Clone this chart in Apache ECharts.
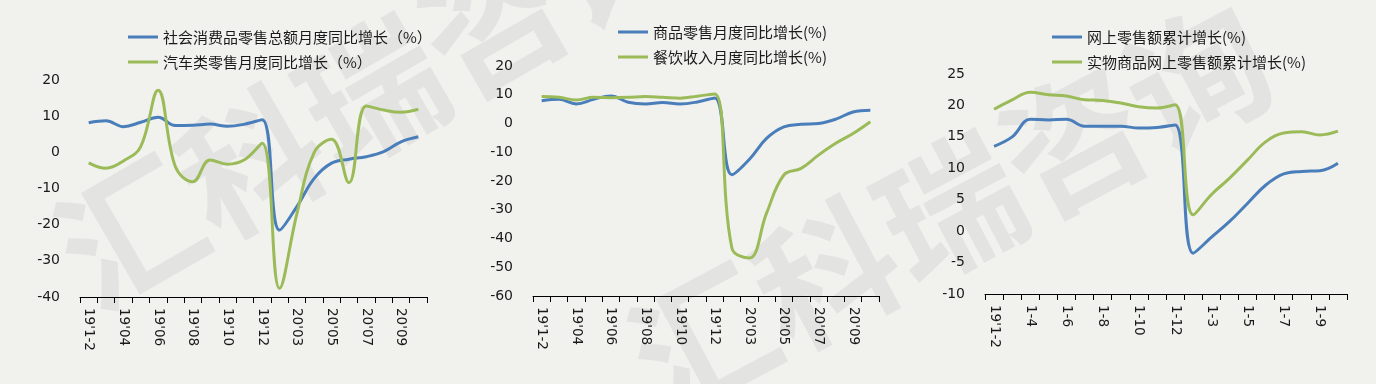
<!DOCTYPE html>
<html>
<head>
<meta charset="utf-8">
<style>
html,body{margin:0;padding:0;background:#f1f2ee;}
#c{width:1376px;height:384px;}
</style>
<script src="https://cdn.jsdelivr.net/npm/echarts@6/dist/echarts.min.js"></script>
</head>
<body>
<div id="c"></div>
<script>
// ---- data ----
var catsMonthly = ["19'1-2","19'03","19'04","19'05","19'06","19'07","19'08","19'09","19'10","19'11","19'12",
                   "20'1-2","20'03","20'04","20'05","20'06","20'07","20'08","20'09","20'10"];
var catsCumul = ["19'1-2","1-3","1-4","1-5","1-6","1-7","1-8","1-9","1-10","1-11","1-12",
                 "1-2","1-3","1-4","1-5","1-6","1-7","1-8","1-9","1-10"];

var nameTotal = "社会消费品零售总额月度同比增长（%）";
var nameAuto = "汽车类零售月度同比增长（%）";
var totalRetail = [8.2, 8.7, 7.1, 8.3, 9.7, 7.4, 7.5, 7.8, 7.2, 7.8, 9.0,
                   -21.5, -15.0, -7.2, -3.0, -1.9, -1.2, 0.2, 2.9, 4.3];
var autoRetail = [-2.9, -4.4, -2.4, 1.6, 17.2, -4.0, -8.1, -2.1, -3.3, -2.0, 2.5,
                  -37.6, -17.0, 0.0, 3.6, -8.4, 12.8, 11.7, 11.1, 11.9];

var nameGoods = "商品零售月度同比增长(%)";
var nameCatering = "餐饮收入月度同比增长(%)";
var goodsRetail = [7.9, 8.4, 6.8, 8.4, 9.6, 7.4, 6.8, 7.3, 6.8, 7.5, 8.9,
                   -17.8, -12.5, -5.2, -1.2, -0.3, 0.0, 1.5, 4.0, 4.6];
var cateringIncome = [9.4, 9.1, 8.2, 9.1, 9.0, 9.1, 9.4, 9.1, 8.8, 9.5, 10.3,
                      -43.4, -46.8, -31.2, -17.9, -15.6, -11.0, -6.9, -3.5, 0.6];

var nameOnline = "网上零售额累计增长(%)";
var nameOnlineGoods = "实物商品网上零售额累计增长(%)";
var onlineRetail = [13.5, 15.0, 17.8, 17.7, 17.8, 16.7, 16.7, 16.7, 16.4, 16.5, 16.9,
                    -3.5, -1.0, 1.5, 4.4, 7.3, 9.1, 9.5, 9.6, 10.8];
var onlineGoods = [19.4, 20.9, 22.1, 21.7, 21.5, 20.9, 20.8, 20.4, 19.8, 19.6, 20.1,
                   2.6, 5.8, 8.4, 11.3, 14.2, 15.6, 15.8, 15.3, 15.9];

// ---- styles ----
var BLUE = '#4a7ebb', GREEN = '#9bbb59';
var numFont = 'DejaVu Sans';
var cjkFont = '"Noto Sans CJK SC", "Noto Sans", sans-serif';

var grids = [
  {left: 80, top: 80, width: 347, height: 217},
  {left: 533, top: 66, width: 346, height: 230},
  {left: 985, top: 74, width: 362, height: 220}
];
var yRanges = [
  {min: -40, max: 20, interval: 10},
  {min: -60, max: 20, interval: 10},
  {min: -10, max: 25, interval: 5}
];
var catsList = [catsMonthly, catsMonthly, catsCumul];

function xAx(i){
  return {
    type: 'category', gridIndex: i, data: catsList[i], boundaryGap: true,
    axisLine: {show: true, onZero: false, lineStyle: {color: '#000', width: 1}},
    axisTick: {show: true, interval: 0, length: 6, lineStyle: {color: '#000'}},
    axisLabel: {interval: 1, rotate: -90, margin: 11, color: '#1a1a1a',
                fontFamily: numFont, fontSize: 13.5},
    splitLine: {show: false}
  };
}
function yAx(i){
  return {
    type: 'value', gridIndex: i, min: yRanges[i].min, max: yRanges[i].max, interval: yRanges[i].interval,
    axisLine: {show: false}, axisTick: {show: false}, splitLine: {show: false},
    axisLabel: {margin: 20, color: '#1a1a1a', fontFamily: numFont, fontSize: 14}
  };
}
function ser(name, data, color, idx){
  return {
    name: name, type: 'line', xAxisIndex: idx, yAxisIndex: idx, data: data,
    smooth: 0.4, symbol: 'none', lineStyle: {color: color, width: 3}, itemStyle: {color: color}, z: 3
  };
}
function leg(names, left, top){
  return {
    data: names, orient: 'vertical', left: left, top: top, itemGap: 9,
    icon: 'rect', itemWidth: 30, itemHeight: 3,
    textStyle: {fontFamily: cjkFont, fontSize: 15, color: '#1a1a1a', lineHeight: 16},
    selectedMode: false
  };
}

var wmStyle = {fontSize: 140, fontWeight: 'bold', fill: 'rgba(200,200,200,0.33)',
               fontFamily: cjkFont, align: 'center', verticalAlign: 'middle', text: '汇科瑞咨询'};
var option = {
  backgroundColor: '#f1f2ee',
  animation: false,
  graphic: [
    {type: 'text', x: 372, y: 92, rotation: 30 * Math.PI / 180, z: 0, silent: true, style: wmStyle},
    {type: 'text', x: 950, y: 208, rotation: 28 * Math.PI / 180, z: 0, silent: true, style: wmStyle}
  ],
  grid: grids,
  xAxis: [xAx(0), xAx(1), xAx(2)],
  yAxis: [yAx(0), yAx(1), yAx(2)],
  legend: [
    leg([nameTotal, nameAuto], 123, 24),
    leg([nameGoods, nameCatering], 613, 19),
    leg([nameOnline, nameOnlineGoods], 1047, 24)
  ],
  series: [
    ser(nameTotal, totalRetail, BLUE, 0),
    ser(nameAuto, autoRetail, GREEN, 0),
    ser(nameGoods, goodsRetail, BLUE, 1),
    ser(nameCatering, cateringIncome, GREEN, 1),
    ser(nameOnline, onlineRetail, BLUE, 2),
    ser(nameOnlineGoods, onlineGoods, GREEN, 2)
  ]
};
var chart = echarts.init(document.getElementById('c'), null, {renderer: 'canvas'});
chart.setOption(option);
</script>
</body>
</html>
